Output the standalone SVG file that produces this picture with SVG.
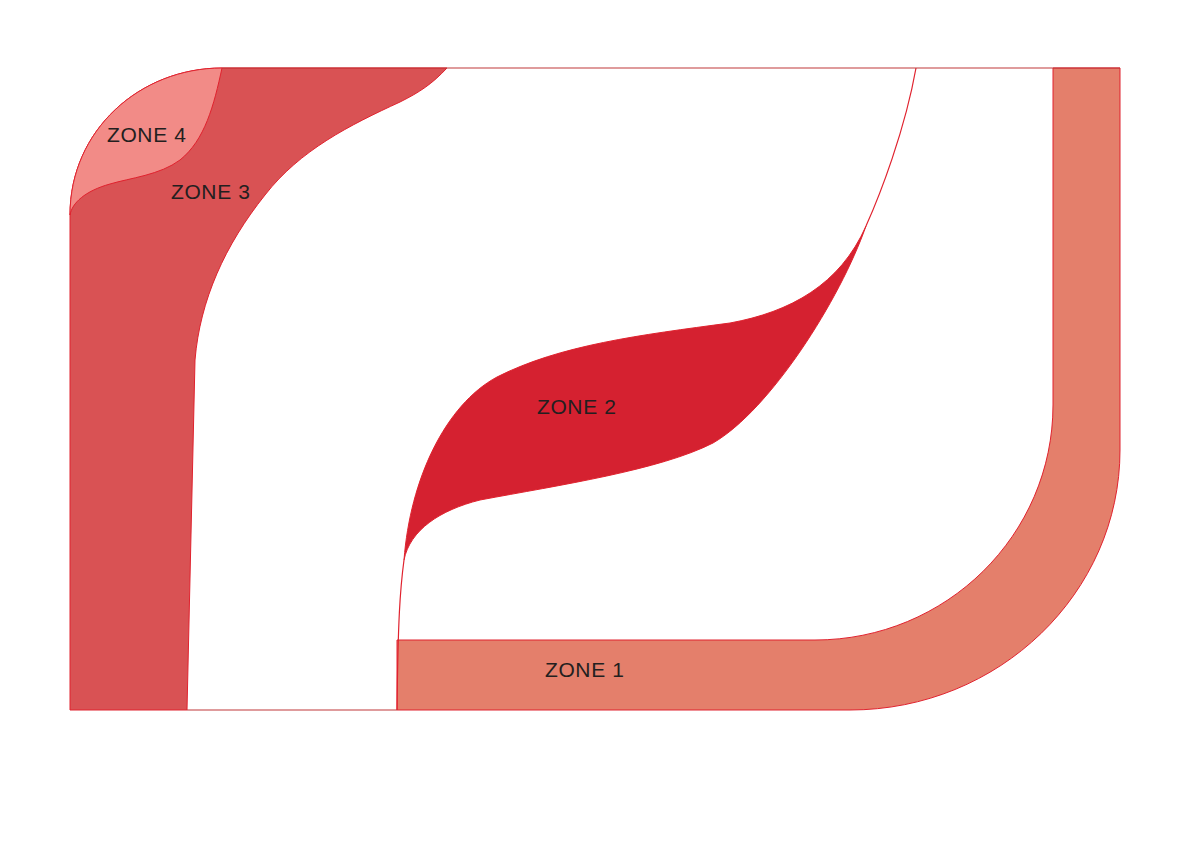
<svg xmlns="http://www.w3.org/2000/svg" width="1191" height="842" viewBox="0 0 1191 842">
<style>
.z{stroke:#e0222e;stroke-width:1;stroke-linejoin:round}
.ln{fill:none;stroke:#e0222e;stroke-width:1.2}
.frame{fill:none;stroke:#c0393b;stroke-width:1.2}
.lbl{font-family:"Liberation Sans",Arial,sans-serif;font-size:21px;fill:#231f20;letter-spacing:0.6px}
</style>
<rect width="1191" height="842" fill="#ffffff"/>
<g id="zone3">
<path class="z" fill="#d95254" d="M70,710 L70,215 C70,130 140,68 222,68 L447,68 C432,84 420,92 400,102 C350,125 300,150 265,195 C225,245 200,300 195,360 L187,710 Z"/>
<text class="lbl" x="171" y="199">ZONE 3</text>
</g>
<g id="zone4">
<path class="z" fill="#f28b87" d="M70,215 C70,130 140,68 222,68 C214,105 205,140 180,160 C160,175 130,178 110,184 C85,191 72,203 70,215 Z"/>
<text class="lbl" x="107" y="142">ZONE 4</text>
</g>
<g id="zone1">
<path class="z" fill="#e47f6b" d="M397,640 L815,640 C946,640 1053,535 1053,405 L1053,68 L1120,68 L1120,450 C1120,593 999,710 850,710 L397,710 Z"/>
<text class="lbl" x="545" y="677">ZONE 1</text>
</g>
<g id="zone2">
<path class="z" fill="#d52130" d="M404,560 C410,480 445,405 497,377 C560,345 640,335 730,323 C790,312 840,285 866,226 C840,300 770,410 713,443 C660,470 560,485 480,500 C440,510 410,530 404,560 Z"/>
<text class="lbl" x="537" y="414">ZONE 2</text>
</g>
<g id="connectors">
<path class="ln" d="M404,560 C400,590 398,620 397,710"/>
<path class="ln" d="M866,226 C880,195 905,130 916,68"/>
<path class="frame" d="M222,68 L1120,68"/>
<path class="frame" d="M187,710 L397,710"/>
</g>
</svg>
